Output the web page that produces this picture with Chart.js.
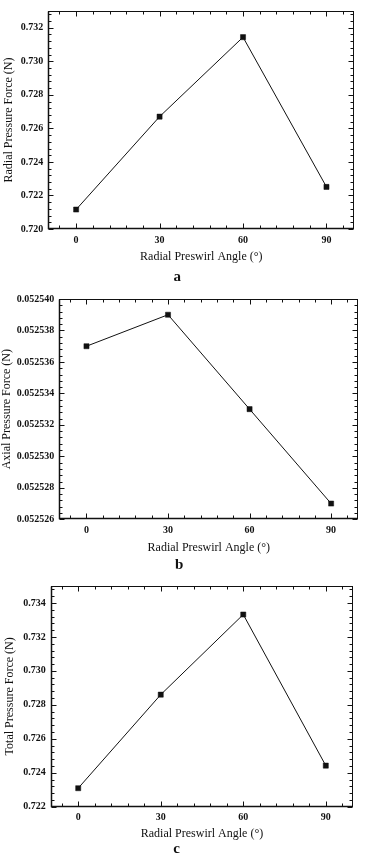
<!DOCTYPE html>
<html>
<head>
<meta charset="utf-8">
<script src="https://cdn.jsdelivr.net/npm/chart.js@4.4.1/dist/chart.umd.min.js"></script>
<style>
  html, body { margin: 0; padding: 0; background: #fff; }
  .panel { position: absolute; left: 0; width: 365px; }
  canvas { display: block; }
</style>
</head>
<body>
<div class="panel" style="top:0"><canvas id="chart-a" width="365" height="285"></canvas></div>
<div class="panel" style="top:285px"><canvas id="chart-b" width="365" height="290"></canvas></div>
<div class="panel" style="top:575px"><canvas id="chart-c" width="365" height="282"></canvas></div>
<script>
const angles = [0, 30, 60, 90];
const radialForce = [0.72116, 0.7267, 0.73144, 0.72251];
const axialForce = [0.052537, 0.052539, 0.052533, 0.052527];
const totalForce = [0.72309, 0.7286, 0.73332, 0.72442];

const xTicks = [0, 30, 60, 90];
const radialTicks = [0.720, 0.722, 0.724, 0.726, 0.728, 0.730, 0.732];
const axialTicks = [0.052526, 0.052528, 0.052530, 0.052532, 0.052534, 0.052536, 0.052538, 0.052540];
const totalTicks = [0.722, 0.724, 0.726, 0.728, 0.730, 0.732, 0.734];

const SERIF = "'Liberation Serif', 'DejaVu Serif', serif";
const INK = "#111";

// frame round the plot, with inward ticks on all four sides
const frameTicks = {
  id: "frameTicks",
  afterDraw(chart, _args, opts) {
    const { ctx, chartArea: a, scales: { x, y } } = chart;
    const L = Math.round(a.left) + 0.5;
    const R = Math.round(a.right) - 0.5;
    const T = Math.round(a.top) + 0.5;
    const B = Math.round(a.bottom) - 0.5;
    ctx.save();
    ctx.strokeStyle = INK;
    ctx.lineWidth = 1;
    ctx.strokeRect(L, T, R - L, B - T);
    ctx.lineWidth = 1.5;
    ctx.beginPath();
    ctx.moveTo(L, T);
    ctx.lineTo(L, B);
    ctx.lineTo(R, B);
    ctx.stroke();

    ctx.lineWidth = 1;
    ctx.beginPath();
    for (let v = opts.xFrom; v <= x.max + 1e-9; v += opts.xMinor) {
      if (v < x.min) continue;
      const px = Math.round(x.getPixelForValue(v)) + 0.5;
      const len = xTicks.includes(Math.round(v)) ? 5 : 3;
      ctx.moveTo(px, B);
      ctx.lineTo(px, B - len);
      ctx.moveTo(px, T);
      ctx.lineTo(px, T + len);
    }
    const majors = opts.yMajors;
    const step = (majors[1] - majors[0]) / 5;
    for (let i = 0; ; i++) {
      const v = majors[0] + i * step;
      if (v > y.max + step * 0.01) break;
      const px = Math.round(y.getPixelForValue(v)) + 0.5;
      const len = i % 5 === 0 ? 5 : 3;
      ctx.moveTo(L, px);
      ctx.lineTo(L + len, px);
      ctx.moveTo(R, px);
      ctx.lineTo(R - len, px);
    }
    ctx.stroke();
    ctx.restore();
  }
};

function makeChart(id, cfg) {
  return new Chart(document.getElementById(id), {
    type: "line",
    data: {
      datasets: [{
        data: angles.map((a, i) => ({ x: a, y: cfg.values[i] })),
        borderColor: INK,
        borderWidth: 1,
        backgroundColor: INK,
        pointStyle: "rect",
        pointRadius: 3.6,
        pointBorderWidth: 0.5,
        pointBorderColor: INK,
        tension: 0
      }]
    },
    plugins: [frameTicks],
    options: {
      responsive: false,
      animation: false,
      events: [],
      layout: { padding: { top: cfg.padTop, right: cfg.padRight, left: 0, bottom: 0 } },
      scales: {
        x: {
          type: "linear",
          min: -10,
          max: 100,
          grid: { display: false, drawTicks: false },
          border: { display: false },
          afterBuildTicks: (s) => { s.ticks = xTicks.map((v) => ({ value: v })); },
          afterFit: (s) => { s.height = cfg.xAxisH; },
          ticks: {
            padding: 5,
            color: INK,
            maxRotation: 0,
            font: { family: SERIF, size: 10, weight: "bold" },
            callback: (v) => String(v)
          },
          title: {
            display: true,
            text: "Radial Preswirl Angle (°)",
            color: INK,
            font: { family: SERIF, size: 12 },
            padding: { top: 0, bottom: cfg.xTitlePad }
          }
        },
        y: {
          type: "linear",
          min: cfg.yMin,
          max: cfg.yMax,
          grid: { display: false, drawTicks: false },
          border: { display: false },
          afterBuildTicks: (s) => { s.ticks = cfg.yTicks.map((v) => ({ value: v })); },
          afterFit: (s) => { s.width = cfg.yAxisW; },
          ticks: {
            padding: 5,
            color: INK,
            font: { family: SERIF, size: 10, weight: "bold" },
            callback: (v) => v.toFixed(cfg.digits)
          },
          title: {
            display: true,
            text: cfg.yTitle,
            color: INK,
            font: { family: SERIF, size: 12 },
            padding: { top: cfg.yTitlePad, bottom: 0 }
          }
        }
      },
      plugins: {
        legend: { display: false },
        tooltip: { enabled: false },
        title: {
          display: true,
          position: "bottom",
          text: cfg.label,
          color: INK,
          font: { family: SERIF, size: 15, weight: "bold", lineHeight: 1 },
          padding: { top: 0, bottom: cfg.labelPad }
        },
        frameTicks: { xFrom: -6, xMinor: 6, yMajors: cfg.yTicks }
      }
    }
  });
}

makeChart("chart-a", {
  values: radialForce, yTicks: radialTicks, yMin: 0.720, yMax: 0.733, digits: 3,
  yTitle: "Radial Pressure Force (N)", label: "a",
  padTop: 4, padRight: 10.7, yAxisW: 48.3, xAxisH: 41, xTitlePad: 5.8, yTitlePad: 1.8, labelPad: 0
});

makeChart("chart-b", {
  values: axialForce, yTicks: axialTicks, yMin: 0.052526, yMax: 0.052540, digits: 6,
  yTitle: "Axial Pressure Force (N)", label: "b",
  padTop: 14, padRight: 6.7, yAxisW: 59.3, xAxisH: 38.7, xTitlePad: 3.1, yTitlePad: 0, labelPad: 2
});

makeChart("chart-c", {
  values: totalForce, yTicks: totalTicks, yMin: 0.722, yMax: 0.735, digits: 3,
  yTitle: "Total Pressure Force (N)", label: "c",
  padTop: 9.3, padRight: 11.7, yAxisW: 50.7, xAxisH: 34.6, xTitlePad: 0, yTitlePad: 2.8, labelPad: 0.7
});
</script>
</body>
</html>
